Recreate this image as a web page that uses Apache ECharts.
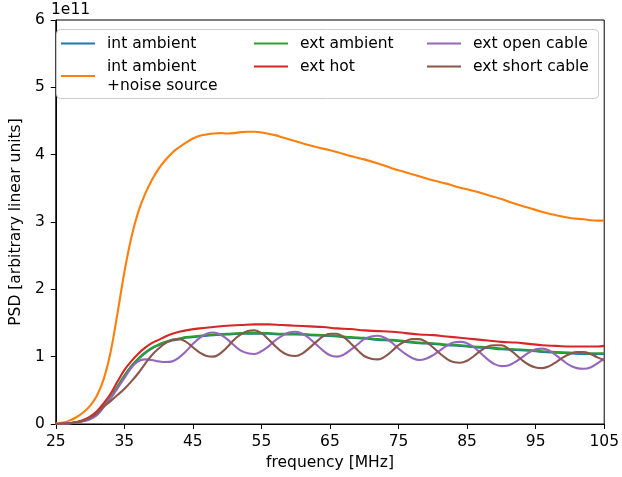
<!DOCTYPE html>
<html><head><meta charset="utf-8">
<script src="https://cdn.jsdelivr.net/npm/echarts@6/dist/echarts.min.js"></script>
<style>html,body{margin:0;padding:0;background:#fff}#c{width:622px;height:477px}</style>
</head><body><div id="c"></div>
<script>
const xTicks = [25, 35, 45, 55, 65, 75, 85, 95, 105];
const yTicks = [0, 1, 2, 3, 4, 5, 6];

const freqOrange = [25,26,27,28,29,30,31,32,33,34,35,36,37,38,39,40,41,42,43,44,45,46,47,48,49,50,51,52,53,54,55,56,57,58,59,60,62,64,66,68,70,72,74,76,78,80,82,84,86,88,90,92,94,96,98,100,102,104,105];
const intAmbNoise = [0.01,0.02,0.05,0.10,0.17,0.27,0.42,0.67,1.07,1.64,2.25,2.76,3.14,3.41,3.62,3.79,3.92,4.03,4.11,4.18,4.24,4.28,4.30,4.315,4.32,4.315,4.32,4.335,4.34,4.34,4.33,4.31,4.29,4.26,4.23,4.20,4.14,4.09,4.04,3.98,3.93,3.87,3.80,3.74,3.68,3.62,3.57,3.51,3.46,3.40,3.34,3.27,3.21,3.15,3.10,3.06,3.04,3.02,3.02];

const freqSmooth = [25,26,27,28,29,30,31,32,33,34,35,36,37,38,39,40,41,42,43,44,46,48,50,52,54,56,58,60,62,64,66,68,70,72,74,76,78,80,82,84,86,88,90,92,94,96,98,100,102,104,105];
const extHot = [0.0,0.005,0.01,0.03,0.06,0.11,0.19,0.31,0.45,0.63,0.80,0.93,1.04,1.13,1.20,1.25,1.30,1.34,1.37,1.39,1.42,1.44,1.46,1.47,1.48,1.48,1.47,1.46,1.45,1.44,1.42,1.41,1.39,1.38,1.37,1.35,1.33,1.32,1.30,1.28,1.26,1.24,1.22,1.21,1.19,1.17,1.16,1.15,1.15,1.15,1.16];
const extAmbient = [0.0,0.004,0.01,0.025,0.05,0.09,0.16,0.27,0.40,0.56,0.72,0.86,0.97,1.06,1.13,1.18,1.22,1.25,1.27,1.29,1.31,1.33,1.34,1.35,1.35,1.35,1.34,1.34,1.33,1.32,1.31,1.29,1.28,1.26,1.25,1.23,1.21,1.20,1.18,1.17,1.15,1.14,1.12,1.11,1.10,1.08,1.07,1.06,1.05,1.05,1.05];
const intAmbient = [0.0,0.004,0.01,0.024,0.048,0.087,0.155,0.26,0.39,0.55,0.71,0.85,0.96,1.05,1.12,1.17,1.21,1.24,1.26,1.28,1.30,1.32,1.33,1.34,1.34,1.34,1.33,1.33,1.32,1.31,1.30,1.28,1.27,1.25,1.24,1.22,1.20,1.19,1.17,1.16,1.14,1.13,1.11,1.10,1.09,1.07,1.06,1.05,1.04,1.04,1.04];

const freqCable = [25,26,27,28,29,30,31,32,33,34,35,36,37,38,39,40,41,42,43,44,45,46,47,48,49,50,51,52,53,54,55,56,57,58,59,60,61,62,63,64,65,66,67,68,69,70,71,72,73,74,75,76,77,78,79,80,81,82,83,84,85,86,87,88,89,90,91,92,93,94,95,96,97,98,99,100,101,102,103,104,105];
const extOpen = [0.0,0.003,0.01,0.02,0.04,0.07,0.13,0.25,0.38,0.53,0.68,0.83,0.93,0.96,0.95,0.93,0.92,0.93,0.99,1.08,1.19,1.28,1.34,1.36,1.33,1.26,1.17,1.09,1.05,1.04,1.08,1.15,1.24,1.31,1.36,1.37,1.34,1.27,1.18,1.09,1.02,1.00,1.03,1.10,1.18,1.26,1.30,1.31,1.28,1.21,1.12,1.04,0.98,0.95,0.97,1.02,1.09,1.16,1.21,1.22,1.20,1.14,1.05,0.96,0.89,0.86,0.87,0.92,0.99,1.06,1.11,1.12,1.09,1.02,0.94,0.87,0.83,0.82,0.84,0.90,0.97];
const extShort = [0.0,0.004,0.012,0.025,0.05,0.09,0.16,0.26,0.34,0.43,0.52,0.63,0.75,0.89,1.02,1.12,1.20,1.25,1.26,1.22,1.14,1.06,1.01,1.00,1.05,1.14,1.25,1.33,1.38,1.39,1.35,1.26,1.16,1.07,1.02,1.01,1.05,1.13,1.22,1.30,1.34,1.34,1.29,1.20,1.10,1.01,0.97,0.96,1.00,1.08,1.17,1.23,1.26,1.26,1.22,1.14,1.05,0.97,0.92,0.91,0.94,1.01,1.09,1.15,1.17,1.17,1.12,1.04,0.95,0.88,0.84,0.83,0.86,0.92,0.99,1.04,1.07,1.07,1.04,0.99,0.95];

const pair = (xs, ys) => xs.map((x, i) => [x, ys[i]]);
const FONT = 'DejaVu Sans';
const FS = 15.5;
const mk = (name, color, xs, ys) => ({
  name, type: 'line', data: pair(xs, ys), showSymbol: false, smooth: 0.4,
  lineStyle: { width: 2.1, color }, itemStyle: { color }, animation: false
});
const series = [
  mk('int ambient', '#1f77b4', freqSmooth, intAmbient),
  mk('int ambient\n+noise source', '#ff7f0e', freqOrange, intAmbNoise),
  mk('ext ambient', '#2ca02c', freqSmooth, extAmbient),
  mk('ext hot', '#d62728', freqSmooth, extHot),
  mk('ext open cable', '#9467bd', freqCable, extOpen),
  mk('ext short cable', '#8c564b', freqCable, extShort)
];
const legendBase = (left, data) => ({
  orient: 'vertical', left, top: 34, padding: 0, itemGap: 4, itemWidth: 34, itemHeight: 2,
  icon: 'rect', data, z: 20,
  textStyle: { fontFamily: FONT, fontSize: FS, color: '#000', lineHeight: 19, padding: [0, 0, 0, 7] }
});
const chart = echarts.init(document.getElementById('c'), null, { renderer: 'canvas' });
chart.setOption({
  animation: false,
  backgroundColor: '#fff',
  grid: { left: 52, right: 17, top: 20, bottom: 53, show: true, borderColor: '#000', borderWidth: 1, backgroundColor: 'transparent' },
  xAxis: {
    type: 'value', min: 25, max: 105,
    name: 'frequency [MHz]', nameLocation: 'middle', nameGap: 31,
    nameTextStyle: { fontFamily: FONT, fontSize: FS, color: '#000' },
    axisLine: { lineStyle: { color: '#000', width: 1 } },
    axisTick: { show: true, length: 5, lineStyle: { color: '#000' }, customValues: xTicks },
    axisLabel: { fontFamily: FONT, fontSize: FS, color: '#000', margin: 10, customValues: xTicks },
    splitLine: { show: false }
  },
  yAxis: {
    type: 'value', min: 0, max: 6, interval: 1,
    name: 'PSD [arbitrary linear units]', nameLocation: 'middle', nameGap: 30,
    nameTextStyle: { fontFamily: FONT, fontSize: FS, color: '#000' },
    axisLine: { show: true, lineStyle: { color: '#000', width: 1 } },
    axisTick: { show: true, length: 5, lineStyle: { color: '#000' }, customValues: yTicks },
    axisLabel: { fontFamily: FONT, fontSize: FS, color: '#000', margin: 11, customValues: yTicks },
    splitLine: { show: false }
  },
  legend: [
    legendBase(61, ['int ambient', 'int ambient\n+noise source']),
    legendBase(254, ['ext ambient', 'ext hot']),
    legendBase(427, ['ext open cable', 'ext short cable'])
  ],
  graphic: [
    { type: 'rect', left: 56, top: 29, z: 5, shape: { width: 542, height: 69, r: 4 },
      style: { fill: 'rgba(255,255,255,0.8)', stroke: '#cccccc', lineWidth: 1 } },
    { type: 'text', left: 51, top: 2, style: { text: '1e11', fontFamily: FONT, fontSize: FS, fill: '#000' } }
  ],
  series
});
</script></body></html>
